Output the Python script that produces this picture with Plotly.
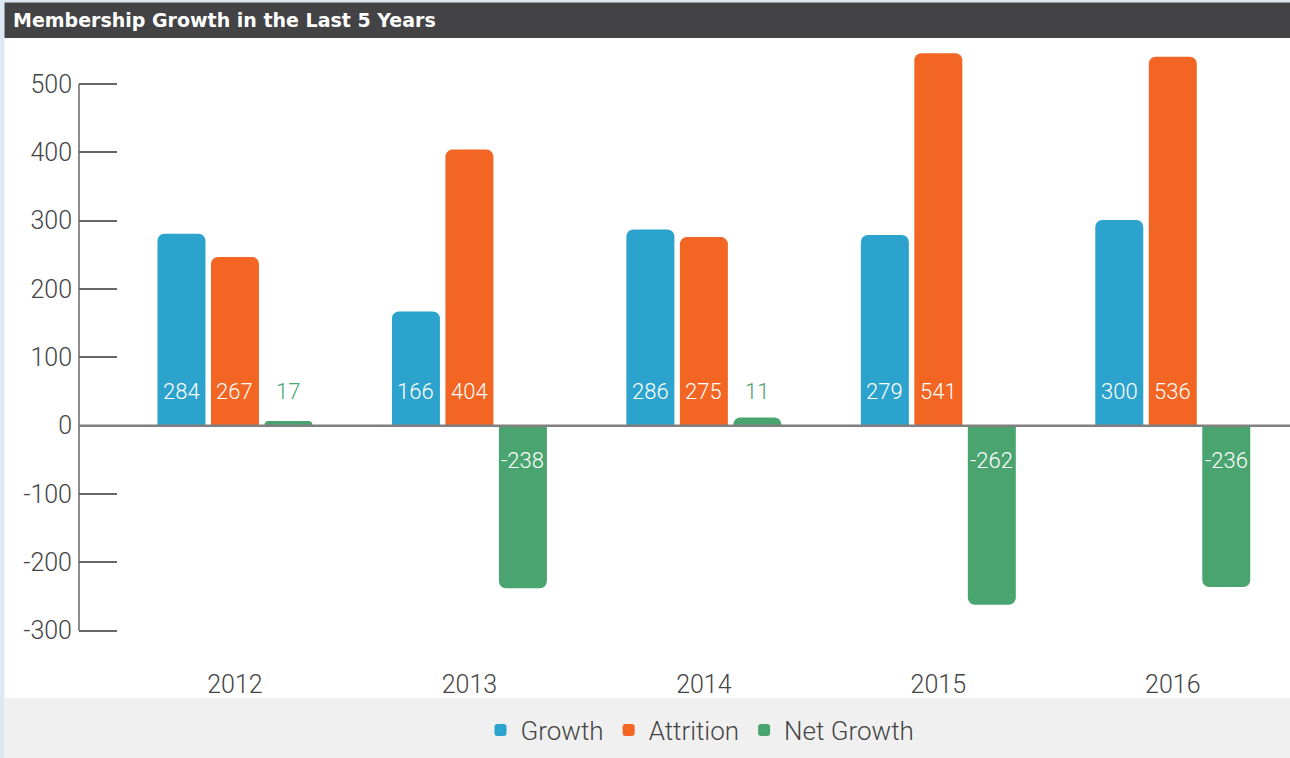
import plotly.graph_objects as go

years = ["2012", "2013", "2014", "2015", "2016"]
# bar heights as drawn
growth = [281, 167, 287, 279, 301]
attrition = [247, 404, 276, 545, 540]
net_growth = [7, -238, 12, -262, -236]
# value labels as printed
growth_labels = [284, 166, 286, 279, 300]
attrition_labels = [267, 404, 275, 541, 536]
net_labels = [17, -238, 11, -262, -236]
y_ticks = [-300, -200, -100, 0, 100, 200, 300, 400, 500]

C_GROWTH = "#2ca3cd"
C_ATTR = "#f26522"
C_NET = "#4aa46f"
TXT = "#444444"
FONT = "Roboto"

# pixel geometry helpers
W, H = 1290, 758
L, R, T, B = 79, 0, 40, 108
plot_w = W - L - R
plot_h = H - T - B
def px_x(X):
    return (X - L) / plot_w
def px_y(Y):
    return (H - B - Y) / plot_h

cat_px = 234.5
x_left = -0.5 - (235 - cat_px / 2 - L) / cat_px
slot = 53.5 / cat_px

fig = go.Figure()
series = [
    ("Growth", growth, C_GROWTH),
    ("Attrition", attrition, C_ATTR),
    ("Net Growth", net_growth, C_NET),
]
for name, vals, col in series:
    fig.add_trace(go.Bar(
        x=list(range(len(years))), y=vals, name=name,
        marker=dict(color=col, line=dict(width=0), cornerradius=7),
        hoverinfo="skip",
    ))

annotations = []
label_sets = [(growth_labels, -1), (attrition_labels, 0), (net_labels, 1)]
for k, (labs, off) in enumerate(label_sets):
    for i, v in enumerate(labs):
        col = C_NET if (k == 2 and v > 0) else "white"
        yv = 50 if v > 0 else -51
        annotations.append(dict(
            x=i + off * slot, y=yv, xref="x", yref="y", text=str(v),
            showarrow=False, font=dict(family=FONT, size=22, color=col, weight=300),
            xanchor="center", yanchor="middle",
        ))

annotations.append(dict(
    x=px_x(11), y=px_y(20.5), xref="paper", yref="paper",
    text="<b>Membership Growth in the Last 5 Years</b>", showarrow=False,
    xanchor="left", yanchor="middle",
    font=dict(family="DejaVu Sans", size=19, color="white"),
))

shapes = [
    # light blue frame
    dict(type="rect", xref="paper", yref="paper", x0=px_x(0), x1=px_x(4.5),
         y0=px_y(H), y1=px_y(0), fillcolor="#dce8f3", line=dict(width=0), layer="below"),
    dict(type="rect", xref="paper", yref="paper", x0=px_x(0), x1=px_x(W),
         y0=px_y(2.5), y1=px_y(0), fillcolor="#dce8f3", line=dict(width=0), layer="below"),
    # title bar
    dict(type="rect", xref="paper", yref="paper", x0=px_x(4.5), x1=px_x(W),
         y0=px_y(38), y1=px_y(2.5), fillcolor="#434345", line=dict(width=0), layer="below"),
    # legend band
    dict(type="rect", xref="paper", yref="paper", x0=px_x(4.5), x1=px_x(W),
         y0=px_y(H), y1=px_y(698), fillcolor="#f0f0f0", line=dict(width=0), layer="below"),
    # y axis line spanning ticks
    dict(type="line", xref="paper", yref="y", x0=0, x1=0, y0=y_ticks[0], y1=y_ticks[-1],
         line=dict(color="#666666", width=1.5)),
    # zero line
    dict(type="line", xref="paper", yref="y", x0=0, x1=1, y0=0, y1=0,
         line=dict(color="#808080", width=2.5)),
]

fig.update_layout(
    width=W, height=H,
    margin=dict(l=L, r=R, t=T, b=B),
    paper_bgcolor="white", plot_bgcolor="white",
    barmode="group", bargap=1 - 3 * slot, bargroupgap=1 - 48 / 53.5,
    showlegend=True,
    legend=dict(orientation="h", x=px_x(700), xanchor="center", y=px_y(730), yanchor="middle",
                font=dict(family=FONT, size=26, color=TXT, weight=300),
                bgcolor="rgba(0,0,0,0)", itemwidth=30, traceorder="normal"),
    annotations=annotations,
    shapes=shapes,
    xaxis=dict(
        range=[x_left, 4.5], tickmode="array", tickvals=list(range(len(years))), ticktext=years,
        showgrid=False, zeroline=False, showline=False, ticks="",
        ticklabelstandoff=17,
        tickfont=dict(family=FONT, size=25, color=TXT, weight=300),
    ),
    yaxis=dict(
        range=[(H - B - 425.7) / -0.6834, (425.7 - T) / 0.6834],
        tickmode="array", tickvals=y_ticks, ticktext=[str(t) for t in y_ticks],
        showgrid=False, zeroline=False, showline=False,
        ticks="inside", ticklen=38, tickwidth=1.5, tickcolor="#666666",
        ticklabelstandoff=6,
        tickfont=dict(family=FONT, size=25, color=TXT, weight=300),
    ),
)

fig.write_html(
    "out.html",
    config={"displayModeBar": False},
    post_script="document.body.style.margin='0';document.body.style.overflow='hidden';",
)
